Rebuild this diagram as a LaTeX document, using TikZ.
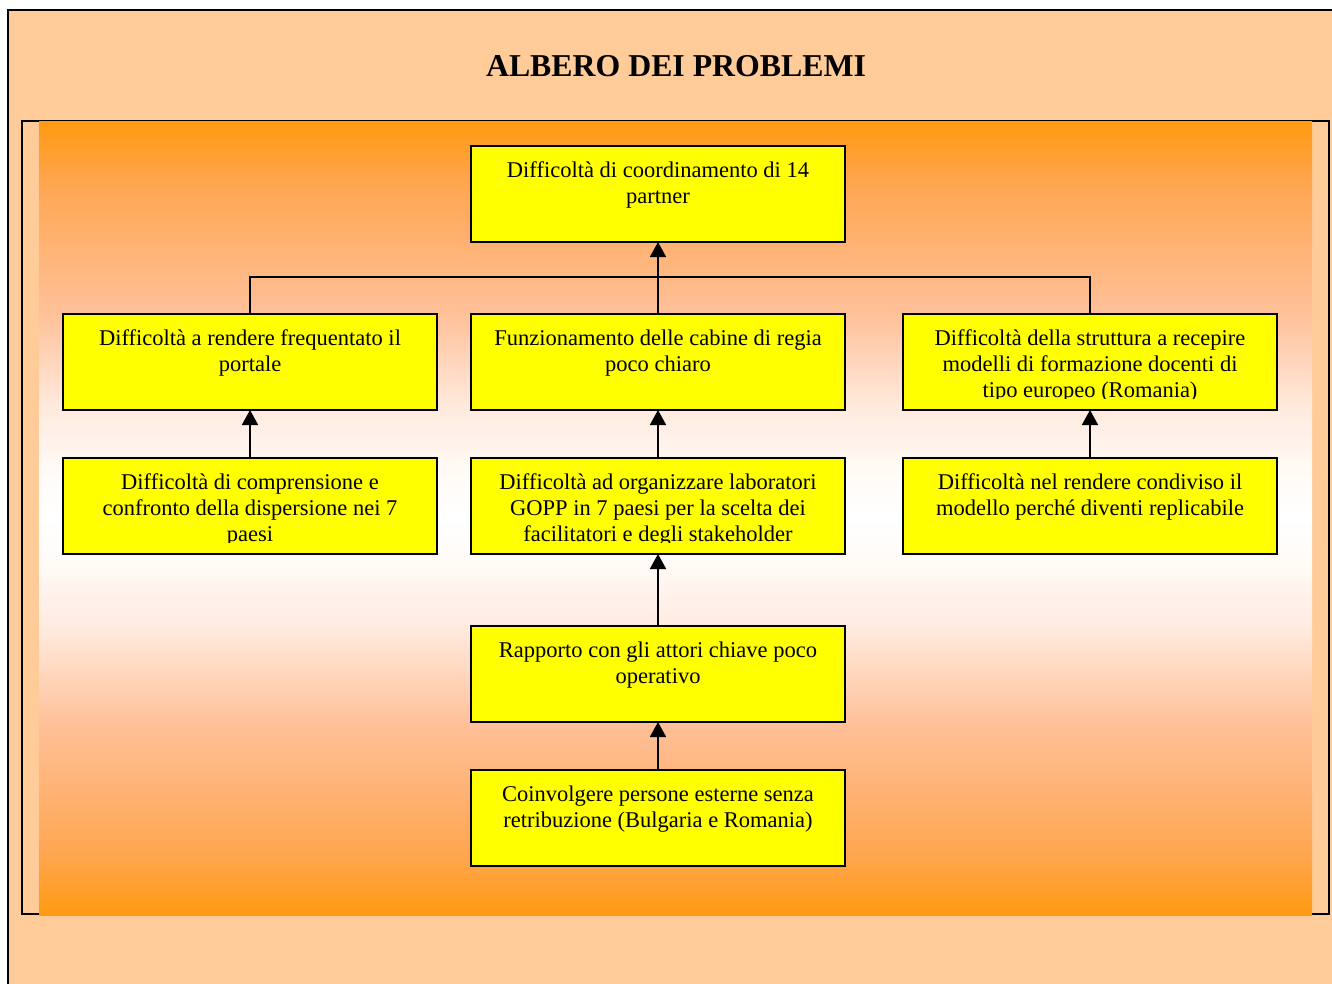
\documentclass[tikz,border=0pt]{standalone}
\usepackage{fontspec}
\setmainfont{Liberation Serif}
\usetikzlibrary{arrows.meta}
\definecolor{peach}{RGB}{255,204,153}
\definecolor{boxyellow}{RGB}{255,255,0}
\definecolor{gorng}{RGB}{255,154,18}
\definecolor{gc1}{RGB}{255,166,82}
\definecolor{gc2}{RGB}{255,192,152}
\definecolor{gc3}{RGB}{255,234,222}
\definecolor{gc4}{RGB}{255,250,246}
\pgfdeclareverticalshading{bggrad}{100bp}{color(0bp)=(gorng); color(25bp)=(gorng); color(29bp)=(gc1); color(37bp)=(gc2); color(43bp)=(gc3); color(47bp)=(gc4); color(50bp)=(white); color(53bp)=(gc4); color(57bp)=(gc3); color(63bp)=(gc2); color(71bp)=(gc1); color(75bp)=(gorng); color(100bp)=(gorng)}
\newcommand\btxt{\fontsize{22.5}{26}\selectfont}
\tikzset{
  pbox/.style={draw=black, line width=1.8pt, fill=boxyellow, minimum width=374pt,
    minimum height=96pt, inner sep=0pt, outer sep=0pt,
    path picture={
      \clip ([yshift=-1pt]path picture bounding box.north west) rectangle ([yshift=12pt]path picture bounding box.south east);
      \node[anchor=base, inner sep=0pt] at ([yshift=-31.3pt]path picture bounding box.north) {\parbox[t]{374pt}{\btxt\centering #1}};
    }},
  link/.style={line width=1.8pt, draw=black},
  uparrow/.style={link, -{Triangle[width=16pt,length=15pt]}},
}
\begin{document}
\begin{tikzpicture}[x=1pt,y=-1pt]
\useasboundingbox (0,0) rectangle (1332,984);
\fill[white] (0,0) rectangle (1332,984);
% outer panel
\fill[peach] (8,10) rectangle (1332,984);
\draw[line width=2.4pt] (1332,10) -- (8,10) -- (8,984);
% title
\node[font=\fontsize{31.8}{36}\selectfont\bfseries, anchor=base] (title) at (676,77) {ALBERO DEI PROBLEMI};
% inner frame
\draw[line width=1.6pt] (22,121) rectangle (1329,914);
\shade[shading=bggrad] (39,122) rectangle (1312,915);
% boxes
\node[pbox={Difficoltà di coordinamento di 14\\partner}] (top) at (658,194) {};
\node[pbox={Difficoltà a rendere frequentato il\\portale}] (l2) at (250,362) {};
\node[pbox={Funzionamento delle cabine di regia\\poco chiaro}] (m2) at (658,362) {};
\node[pbox={Difficoltà della struttura a recepire\\modelli di formazione docenti di\\tipo europeo (Romania)}] (r2) at (1090,362) {};
\node[pbox={Difficoltà di comprensione e\\confronto della dispersione nei 7\\paesi}] (l3) at (250,506) {};
\node[pbox={Difficoltà ad organizzare laboratori\\GOPP in 7 paesi per la scelta dei\\facilitatori e degli stakeholder}] (m3) at (658,506) {};
\node[pbox={Difficoltà nel rendere condiviso il\\modello perché diventi replicabile}] (r3) at (1090,506) {};
\node[pbox={Rapporto con gli attori chiave poco\\operativo}] (m4) at (658,674) {};
\node[pbox={Coinvolgere persone esterne senza\\retribuzione (Bulgaria e Romania)}] (m5) at (658,818) {};
% connectors
\coordinate (j) at (658,277);
\draw[link] (l2.north) |- (j) -| (r2.north);
\draw[uparrow] (m2.north) -- (top.south);
\draw[uparrow] (l3.north) -- (l2.south);
\draw[uparrow] (m3.north) -- (m2.south);
\draw[uparrow] (r3.north) -- (r2.south);
\draw[uparrow] (m4.north) -- (m3.south);
\draw[uparrow] (m5.north) -- (m4.south);
\end{tikzpicture}
\end{document}
